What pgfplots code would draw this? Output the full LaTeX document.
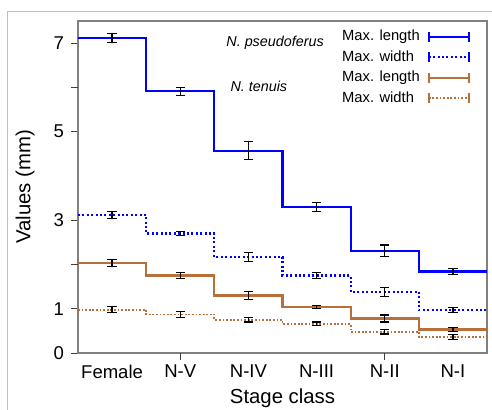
\documentclass[border=0pt]{standalone}
\usepackage{pgfplots}
\pgfplotsset{compat=1.18}
\usepackage{fontspec}
\setmainfont{Liberation Sans}
\definecolor{npblue}{RGB}{0,0,255}
\definecolor{ntbrown}{RGB}{184,112,58}

\begin{document}
\begin{tikzpicture}
\useasboundingbox (-39bp,-28.5bp) rectangle (207bp,176.5bp);
% outer figure frame
\draw[black!25, line width=0.5bp] (-35bp,-40bp) |- (220bp,170.5bp);
\begin{axis}[
  at={(0,0)}, anchor=south west, scale only axis,
  width=204.5bp, height=166bp,
  xmin=-0.5, xmax=5.5, ymin=0, ymax=7.5,
  axis line style={black!50, line width=1bp},
  tick style={black!75, line width=0.5bp},
  tick align=outside, xtick pos=bottom, ytick pos=left,
  major tick length=3.5bp,
  xtick={0,...,5}, xticklabels={Female,N-V,N-IV,N-III,N-II,N-I},
  major x tick style={draw=none},
  xticklabel style={yshift=1bp},
  ytick={0,1,3,5,7}, extra y ticks={2,6}, extra y tick labels={},
  /pgf/number format/assume math mode=true,
  tick label style={font=\fontsize{9.3}{11}\selectfont},
  label style={font=\fontsize{10.2}{12}\selectfont},
  xlabel={Stage class}, ylabel={Values (mm)},
  xlabel style={at={(axis description cs:0.5,0)}, anchor=center, yshift=-22.5bp},
  ylabel style={at={(axis description cs:0,0.5)}, anchor=center, yshift=26.5bp},
  legend style={at={(0.640,0.980)}, anchor=north west, draw=none, fill=none,
    font=\fontsize{7.4}{8.6}\selectfont, inner sep=0pt, row sep=1.4bp,
    column sep=3bp, nodes={inner sep=1bp}},
  legend cell align=left, legend plot pos=right,
  legend image code/.code={
    \draw[#1] (0bp,0bp) -- (20bp,0bp);
    \draw[#1,solid] (0bp,-2.5bp) -- (0bp,2.5bp) (20bp,-2.5bp) -- (20bp,2.5bp);},
  clip=false,
]
% N. pseudoferus, max. length
\addplot[npblue, line width=1.1bp, const plot mark left] coordinates {
  (-0.5,7.12) (0.5,5.91) (1.5,4.57) (2.5,3.30) (3.5,2.31) (4.5,1.84) (5.5,1.84)};
\addlegendentry{Max. length}
% N. pseudoferus, max. width
\addplot[npblue, line width=1.1bp, dash pattern=on 1bp off 1.2bp, const plot mark left] coordinates {
  (-0.5,3.12) (0.5,2.70) (1.5,2.17) (2.5,1.75) (3.5,1.38) (4.5,0.97) (5.5,0.97)};
\addlegendentry{Max. width}
% N. tenuis, max. length
\addplot[ntbrown, line width=1.1bp, const plot mark left] coordinates {
  (-0.5,2.04) (0.5,1.75) (1.5,1.30) (2.5,1.04) (3.5,0.78) (4.5,0.53) (5.5,0.53)};
\addlegendentry{Max. length}
% N. tenuis, max. width
\addplot[ntbrown, line width=0.9bp, dash pattern=on 0.9bp off 0.9bp, const plot mark left] coordinates {
  (-0.5,0.98) (0.5,0.87) (1.5,0.75) (2.5,0.66) (3.5,0.48) (4.5,0.36) (5.5,0.36)};
\addlegendentry{Max. width}

% error bars
\pgfplotsset{ebar/.style={forget plot, draw=none, mark=none,
  error bars/.cd, y dir=both, y explicit,
  error bar style={draw=black, solid, line width=0.6bp},
  error mark options={rotate=90, draw=black, solid, mark size=2.3bp, line width=0.6bp}}}
\addplot[ebar] coordinates {
  (0,7.12) +- (0,0.10) (1,5.91) +- (0,0.09) (2,4.57) +- (0,0.20)
  (3,3.30) +- (0,0.10) (4,2.31) +- (0,0.13) (5,1.84) +- (0,0.065)};
\addplot[ebar] coordinates {
  (0,3.12) +- (0,0.075) (1,2.70) +- (0,0.05) (2,2.17) +- (0,0.10)
  (3,1.75) +- (0,0.06) (4,1.38) +- (0,0.095) (5,0.97) +- (0,0.05)};
\addplot[ebar] coordinates {
  (0,2.04) +- (0,0.08) (1,1.75) +- (0,0.07) (2,1.30) +- (0,0.09)
  (3,1.04) +- (0,0.04) (4,0.78) +- (0,0.08) (5,0.53) +- (0,0.04)};
\addplot[ebar] coordinates {
  (0,0.98) +- (0,0.07) (1,0.87) +- (0,0.06) (2,0.75) +- (0,0.05)
  (3,0.66) +- (0,0.04) (4,0.48) +- (0,0.05) (5,0.36) +- (0,0.05)};

% the two x tick marks that the reference shows
\draw[black!75, line width=0.5bp] (axis cs:1,0) -- ++(0pt,-3.5bp);
\draw[black!75, line width=0.5bp] (axis cs:4,0) -- ++(0pt,-3.5bp);

\node[anchor=west, font=\fontsize{7.2}{8.4}\selectfont\itshape, inner sep=0pt]
  at (rel axis cs:0.362,0.934) {N. pseudoferus};
\node[anchor=west, font=\fontsize{7.2}{8.4}\selectfont\itshape, inner sep=0pt]
  at (rel axis cs:0.372,0.804) {N. tenuis};
\end{axis}
\end{tikzpicture}
\end{document}
